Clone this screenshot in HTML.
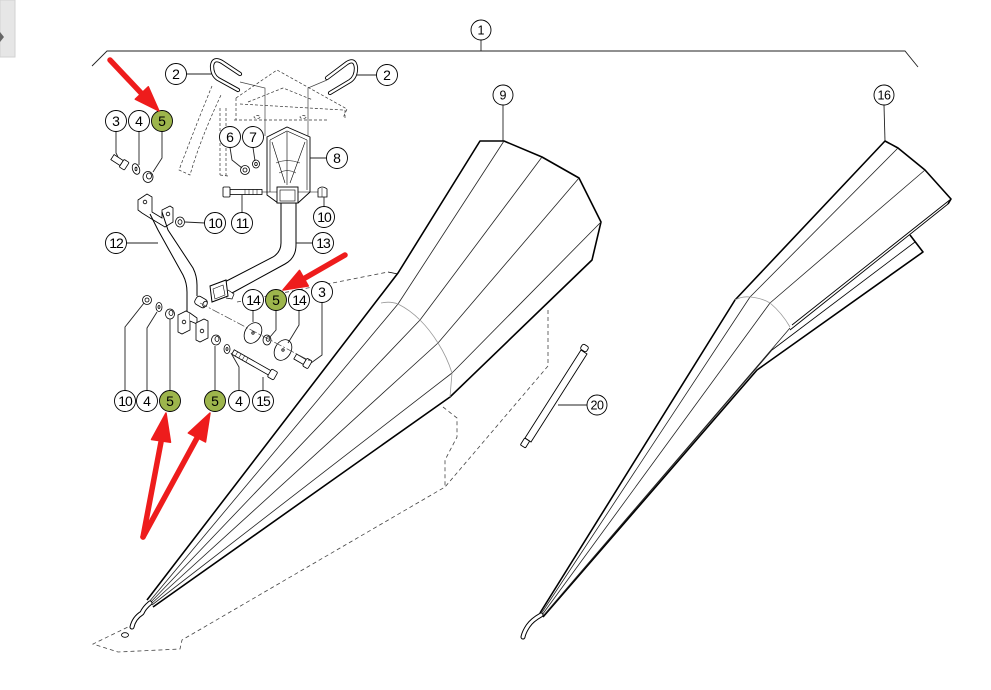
<!DOCTYPE html>
<html><head><meta charset="utf-8"><style>
html,body{margin:0;padding:0;background:#fff;}
svg{display:block;}
text{font-family:"Liberation Sans",Arial,sans-serif;}
</style></head><body>
<svg width="991" height="690" viewBox="0 0 991 690" xmlns="http://www.w3.org/2000/svg">
<rect x="0" y="0" width="15" height="57" fill="#e6e6e6" stroke="#d2d2d2"/>
<polygon points="0,32 4,37 0,42" fill="#666"/>

<!-- assembly bracket 1 -->
<g fill="none" stroke="#222" stroke-width="0.9">
<path d="M92,66 L107,51 L905,51 L918,67"/>
<line x1="481" y1="40" x2="481" y2="51"/>
<line x1="503" y1="105" x2="503" y2="141"/>
<line x1="884" y1="105" x2="885" y2="141"/>
<line x1="587" y1="405" x2="558" y2="405"/>
</g>

<!-- Cone 9 -->
<g fill="none" stroke="#000" stroke-linejoin="round">
<path d="M147,600 L398,273 L480,141 L504,141 L542,157 L579,178 L601,222 L592,260 L450,397 L153,607" stroke-width="1.6"/>
<g stroke-width="0.8" stroke="#222">
<line x1="504" y1="141" x2="398" y2="304"/>
<line x1="542" y1="157" x2="420" y2="320"/>
<line x1="579" y1="178" x2="438" y2="343"/>
<line x1="601" y1="222" x2="452" y2="373"/>
<path d="M398,304 L149,602 M420,320 L150,603 M438,343 L151,604 M452,373 L152,605"/>
</g>
<path d="M381,303 Q390,301 398,304 Q410,310 420,320 Q430,330 438,343 Q447,357 452,373 L450,397" stroke="#999" stroke-width="0.8"/>
<path d="M150,603 Q144,608 142,613 Q134,618 132,627" stroke="#000" stroke-width="5" stroke-linecap="round"/>
<path d="M150,603 Q144,608 142,613 Q134,618 132,627" stroke="#fff" stroke-width="3" stroke-linecap="round"/>
<ellipse cx="125" cy="635" rx="3.5" ry="2.3" stroke-width="0.8"/>
<path d="M388,272 L398,274" stroke-width="0.8"/>
</g>
<g fill="none" stroke="#444" stroke-width="0.8" stroke-dasharray="4,3">
<path d="M237,302 L388,272"/>
<path d="M548,310 L548,366 L445,487 L182,640 L180,649 L118,652 L93,644 L128,627"/>
<path d="M443,407 L457,418 L457,437 L445,460 L445,487"/>
</g>

<!-- Cone 16 -->
<g fill="none" stroke="#000" stroke-linejoin="round">
<path d="M540,613 L735,300 L885,141 L898,148 L925,170 L951,199 L948,204" stroke-width="1.6"/>
<path d="M951,199 L792,325 M948,204 L790,330" stroke-width="0.9"/>
<path d="M910,235 L923,252 L757,370 L543,617" stroke-width="1.6"/>
<path d="M915,242 L772,350" stroke-width="0.8"/>
<g stroke-width="0.8" stroke="#222">
<line x1="898" y1="148" x2="750" y2="297"/>
<line x1="925" y1="170" x2="770" y2="303"/>
<path d="M750,297 L541,614 M770,303 L542,615 M790,328 L543,616 M772,350 L543,616"/>
</g>
<path d="M735,300 Q742,296 750,297 Q762,298 770,303 Q782,313 790,327" stroke="#999" stroke-width="0.8"/>
<path d="M541,615 Q532,620 528,626 Q524,632 523,637" stroke="#000" stroke-width="5" stroke-linecap="round"/>
<path d="M541,615 Q532,620 528,626 Q524,632 523,637" stroke="#fff" stroke-width="3" stroke-linecap="round"/>
</g>

<!-- Part 20 -->
<g fill="#fff" stroke="#000" stroke-width="0.9">
<polygon points="587,354 581,350 525,438 531,442"/>
<rect x="581" y="345" width="7" height="6" rx="2" transform="rotate(32 584.5 348)"/>
<rect x="522" y="439" width="6" height="8" rx="1" transform="rotate(32 525 443)"/>
</g>

<!-- Top dashed beam -->
<g stroke="#333" stroke-width="0.7" stroke-dasharray="3,2" fill="none">
<path d="M236,98 L277,70 L347,109 L343,118"/>
<path d="M240,104 L343,110"/>
<path d="M234,120 L327,120"/>
<path d="M248,102 L283,88 L313,100"/>
<path d="M212,86 Q198,120 179,170 L190,175 Q200,140 221,95"/>
<path d="M220,108 L220,175 M226,108 L226,176 M220,175 L228,176"/>
<path d="M236,98 L236,120 M345,110 L345,120"/>
<ellipse cx="257" cy="117" rx="3" ry="1.5"/>
<ellipse cx="303" cy="117" rx="3" ry="1.5"/>
</g>
<g fill="none" stroke="#444" stroke-width="0.7">
<path d="M240,82 L265,88 L265,136"/>
<path d="M327,80 L308,88 L308,136"/>
</g>

<!-- U-bolts -->
<g fill="none" stroke-linecap="round">
<path d="M240,74 L222,62 Q213,57 212,66 Q212,75 218,79 L238,90" stroke="#000" stroke-width="4.2"/>
<path d="M240,74 L222,62 Q213,57 212,66 Q212,75 218,79 L238,90" stroke="#fff" stroke-width="2.4"/>
<path d="M327,78 L347,63 Q355,58 356,68 Q356,77 350,81 L330,93" stroke="#000" stroke-width="4.2"/>
<path d="M327,78 L347,63 Q355,58 356,68 Q356,77 350,81 L330,93" stroke="#fff" stroke-width="2.4"/>
</g>

<!-- Bracket 8 -->
<g fill="none" stroke="#000" stroke-width="0.9">
<path d="M267,137 L287,127 L310,137 L310,192 L298,203 L278,203 L267,195 Z" fill="#fff"/>
<path d="M270,140 L287,131 L307,140" stroke-width="0.6"/>
<path d="M272,142 L285,183 M305,142 L290,183 M287,132 L287,185 M270,140 L270,192 M307,140 L307,190" stroke-width="0.6"/>
<path d="M276,163 Q287,158 300,163 M279,173 Q287,168 296,173" stroke-width="0.5"/>
<line x1="262" y1="192" x2="318" y2="192" stroke-width="0.6"/>
<rect x="277" y="187" width="21" height="16" fill="#fff"/>
<rect x="280" y="190" width="15" height="11" stroke-width="0.6"/>
</g>

<!-- Pipe 13 -->
<g fill="none" stroke="#000" stroke-width="1">
<path d="M281,203 L281,243 Q281,252 273,257 L213,288"/>
<path d="M296,203 L296,245 Q296,258 285,264 L232,293"/>
<path d="M210,286 L226,280 L228,296 L212,302 Z" fill="#fff"/>
<path d="M213,289 L223,285 L225,295 L215,299 Z" stroke-width="0.6"/>
<path d="M228,290 L234,294 L232,299 L226,298" stroke-width="0.7"/>
</g>

<!-- Bolt 11 / nut 10 -->
<g fill="#fff" stroke="#000" stroke-width="0.8">
<rect x="230" y="189.5" width="32" height="5"/>
<path d="M245,189.5 L245,194.5 M249,189.5 L249,194.5 M253,189.5 L253,194.5 M257,189.5 L257,194.5" stroke-width="0.5"/>
<rect x="223" y="187" width="7" height="10" rx="1"/>
<path d="M318,197 L318,189 Q322,185 327,189 L327,197 Z"/>
<path d="M322,188 L322,197" stroke-width="0.5"/>
</g>

<!-- nut 6, washer 7 -->
<g fill="#fff" stroke="#000" stroke-width="0.8">
<ellipse cx="245" cy="170" rx="4.5" ry="4.5"/>
<ellipse cx="245" cy="170" rx="2" ry="2"/>
<ellipse cx="256" cy="164" rx="3.5" ry="4"/>
<ellipse cx="256" cy="164" rx="1.3" ry="1.6"/>
</g>

<!-- upper left hardware -->
<g fill="#fff" stroke="#000" stroke-width="0.8">
<g transform="translate(120,162) rotate(33)">
<rect x="-9" y="-3" width="11" height="6"/>
<rect x="2" y="-4.5" width="6" height="9" rx="1"/>
</g>
<ellipse cx="136" cy="169" rx="3.5" ry="5.5" transform="rotate(-20 136 169)"/>
<ellipse cx="136" cy="169" rx="1" ry="1.8"/>
<ellipse cx="148" cy="177" rx="5" ry="5.5"/>
<ellipse cx="149" cy="176" rx="2.5" ry="3"/>
<path d="M138,200 L147,194 L152,197 L152,212 L162,218 L162,210 L170,206 L173,208 L173,222 L165,227 L160,224 L150,218 L142,213 L138,210 Z"/>
<circle cx="145" cy="202" r="1.8"/>
<circle cx="168" cy="214" r="1.8"/>
<ellipse cx="180" cy="222" rx="4.5" ry="5"/>
<ellipse cx="180" cy="222" rx="2" ry="2.3"/>
</g>

<!-- Pipe 12 -->
<g fill="none" stroke="#000" stroke-width="1">
<path d="M150,214 L158,230 L183,275 Q187,283 187,292 L187,313"/>
<path d="M162,212 L168,230 L193,268 Q197,276 197,285 L197,296"/>
</g>

<!-- lower bracket 12 -->
<g fill="#fff" stroke="#000" stroke-width="0.8">
<path d="M178,315 L186,311 L190,313 L190,330 L182,334 L178,332 Z"/>
<circle cx="184" cy="322" r="1.8"/>
<path d="M190,313 L197,318 L197,324 L190,321"/>
<path d="M196,323 L204,319 L208,321 L208,338 L200,342 L196,340 Z"/>
<circle cx="202" cy="331" r="1.8"/>
<g transform="translate(201,302) rotate(30)">
<rect x="-6" y="-4.5" width="12" height="9" rx="3"/>
</g>
<ellipse cx="205" cy="304" rx="2" ry="3" transform="rotate(30 205 304)"/>
<ellipse cx="147" cy="300" rx="4.5" ry="4.5"/>
<ellipse cx="147" cy="300" rx="2" ry="2"/>
<ellipse cx="159" cy="307" rx="3" ry="4.5"/>
<ellipse cx="159" cy="307" rx="1" ry="1.5"/>
<ellipse cx="170" cy="314" rx="4.5" ry="5"/>
<ellipse cx="171" cy="313" rx="2" ry="2.5"/>
<ellipse cx="216" cy="340" rx="4.5" ry="5"/>
<ellipse cx="217" cy="339" rx="2" ry="2.5"/>
<ellipse cx="227" cy="349" rx="3" ry="4.5"/>
<ellipse cx="227" cy="349" rx="1" ry="1.5"/>
<g transform="translate(233,352) rotate(29.6)">
<rect x="0" y="-2.5" width="44" height="5"/>
<path d="M4,-2.5 L4,2.5 M8,-2.5 L8,2.5 M12,-2.5 L12,2.5 M16,-2.5 L16,2.5" stroke-width="0.5"/>
<rect x="42" y="-4.5" width="7" height="9" rx="1.5"/>
</g>
<ellipse cx="253" cy="333" rx="8" ry="11" transform="rotate(30 253 333)"/>
<circle cx="253" cy="333" r="1.2"/>
<ellipse cx="267" cy="340" rx="4" ry="5"/>
<ellipse cx="268" cy="339" rx="1.8" ry="2.3"/>
<ellipse cx="283" cy="350" rx="8" ry="11" transform="rotate(30 283 350)"/>
<circle cx="283" cy="350" r="1.2"/>
<g transform="translate(303,361) rotate(30)">
<rect x="-9" y="-2.8" width="11" height="5.6"/>
<rect x="2" y="-4.5" width="6" height="9" rx="1.5"/>
</g>
</g>
<path d="M200,303 L312,362" stroke="#444" stroke-width="0.7" stroke-dasharray="8,2,2,2" fill="none"/>

<!-- leaders -->
<g fill="none" stroke="#222" stroke-width="0.9">
<path d="M186,74 L212,74"/>
<path d="M377,75 L356,75"/>
<path d="M327,158 L310,158"/>
<path d="M126,243 L158,243"/>
<path d="M313,243 L296,243"/>
<path d="M205,223 L185,222"/>
<path d="M242,212 L242,195"/>
<path d="M324,206 L324,197"/>
<path d="M230,147.5 L232,160 L242,168"/>
<path d="M253,147.5 L255,161"/>
<path d="M116,131.5 L116,153 L118,157"/>
<path d="M139,131.5 L139,165"/>
<path d="M162,131.5 L162,158 L153,172"/>
<path d="M125,390.5 L125,327 L144,303"/>
<path d="M147,390.5 L147,328 L157,312"/>
<path d="M170,390.5 L170,319"/>
<path d="M215,390.5 L215,346"/>
<path d="M239,390.5 L239,367 L231,353"/>
<path d="M263,390.5 L263,377"/>
<path d="M253,310.5 L253,322"/>
<path d="M276,310.5 L276,330 L270,337"/>
<path d="M299,310.5 L299,325 L288,343"/>
<path d="M322,302.5 L322,355 L311,363"/>
</g>

<!-- label circles -->
<g stroke="#000" stroke-width="0.9" fill="#fff">
<circle cx="176" cy="74" r="10.5"/>
<circle cx="387" cy="75" r="10.5"/>
<circle cx="116" cy="121" r="10.5"/>
<circle cx="139" cy="121" r="10.5"/>
<circle cx="162" cy="121" r="10.5" fill="#9db54c"/>
<circle cx="230" cy="137" r="10.5"/>
<circle cx="253" cy="137" r="10.5"/>
<circle cx="337" cy="158" r="10.5"/>
<circle cx="215" cy="223" r="10.5"/>
<circle cx="242" cy="223" r="10.5"/>
<circle cx="324" cy="217" r="10.5"/>
<circle cx="116" cy="243" r="10.5"/>
<circle cx="323" cy="243" r="10.5"/>
<circle cx="253" cy="300" r="10.5"/>
<circle cx="276" cy="300" r="10.5" fill="#9db54c"/>
<circle cx="299" cy="300" r="10.5"/>
<circle cx="322" cy="292" r="10.5"/>
<circle cx="125" cy="401" r="10.5"/>
<circle cx="147" cy="401" r="10.5"/>
<circle cx="170" cy="401" r="10.5" fill="#9db54c"/>
<circle cx="215" cy="401" r="10.5" fill="#9db54c"/>
<circle cx="239" cy="401" r="10.5"/>
<circle cx="263" cy="401" r="10.5"/>
<circle cx="481" cy="30" r="10"/>
<circle cx="503" cy="95" r="10"/>
<circle cx="884" cy="95" r="10"/>
<circle cx="597" cy="405" r="10"/>
</g>
<g font-size="14" text-anchor="middle" fill="#000">
<text x="176" y="79">2</text>
<text x="387" y="80">2</text>
<text x="116" y="126">3</text>
<text x="139" y="126">4</text>
<text x="162" y="126">5</text>
<text x="230" y="142">6</text>
<text x="253" y="142">7</text>
<text x="337" y="163">8</text>
<text x="215" y="228" letter-spacing="-1">10</text>
<text x="242" y="228" letter-spacing="-1">11</text>
<text x="324" y="222" letter-spacing="-1">10</text>
<text x="116" y="248" letter-spacing="-1">12</text>
<text x="323" y="248" letter-spacing="-1">13</text>
<text x="253" y="305" letter-spacing="-1">14</text>
<text x="276" y="305">5</text>
<text x="299" y="305" letter-spacing="-1">14</text>
<text x="322" y="297">3</text>
<text x="125" y="406" letter-spacing="-1">10</text>
<text x="147" y="406">4</text>
<text x="170" y="406">5</text>
<text x="215" y="406">5</text>
<text x="239" y="406">4</text>
<text x="263" y="406" letter-spacing="-1">15</text>
</g>
<g font-size="12.5" text-anchor="middle" fill="#000">
<text x="481" y="34.5">1</text>
<text x="503" y="99.5">9</text>
<text x="884" y="99.5" letter-spacing="-0.5">16</text>
<text x="597" y="409.5" letter-spacing="-0.5">20</text>
</g>

<!-- red arrows -->
<g fill="#ee1c1c" stroke="#ee1c1c" stroke-linecap="round" stroke-linejoin="round">
<line x1="110" y1="60" x2="143" y2="95" stroke-width="5.5"/>
<polygon points="159,111 148.3,86.8 135.3,99.2" stroke-width="1.5"/>
<line x1="345" y1="255" x2="305" y2="278" stroke-width="5.5"/>
<polygon points="283,290 308.3,286 299.5,270.4" stroke-width="1.5"/>
<line x1="143" y1="537" x2="161" y2="442" stroke-width="5.5"/>
<polygon points="166,413 170.5,442.2 151.5,439.5" stroke-width="1.5"/>
<line x1="143" y1="537" x2="197" y2="438" stroke-width="5.5"/>
<polygon points="210,413 205.5,442 188.3,433" stroke-width="1.5"/>
</g>
</svg>
</body></html>
